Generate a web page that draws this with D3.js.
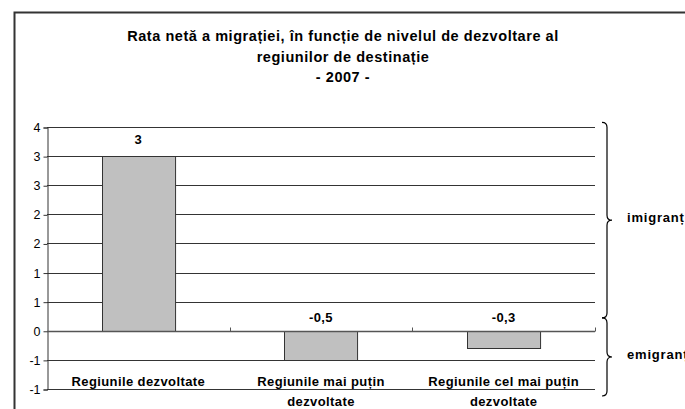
<!DOCTYPE html>
<html>
<head>
<meta charset="utf-8">
<script src="https://cdn.jsdelivr.net/npm/d3@7"></script>
<style>
  body { margin: 0; background: #fff; }
  svg { display: block; font-family: "Liberation Sans", Arial, sans-serif; }
</style>
</head>
<body>
<div id="chart"></div>
<script>
    // Données du graphique
    const categories = [["Regiunile dezvoltate"], ["Regiunile mai puțin", "dezvoltate"], ["Regiunile cel mai puțin", "dezvoltate"]];
    const values = [3, -0.5, -0.3];
    const valueLabels = ["3", "-0,5", "-0,3"];
    const yTicks = [3.5, 3, 2.5, 2, 1.5, 1, 0.5, 0, -0.5, -1];
    const titleLines = ["Rata netă a migrației, în funcție de nivelul de dezvoltare al", "regiunilor de destinație", "- 2007 -"];
    const braceGroups = [{ label: "imigranți", from: 3.58, to: 0.22 }, { label: "emigranți", from: 0.22, to: -1.12 }];

    const width = 685, height = 409;
    const margin = { top: 127, left: 47 };
    const plotW = 595 - margin.left;

    const svg = d3.select("#chart").append("svg")
        .attr("width", width)
        .attr("height", height);

    // Cadre extérieur
    svg.append("path")
        .attr("d", "M14.5,420 V12.5 H700")
        .attr("fill", "none")
        .attr("stroke", "#333")
        .attr("stroke-width", 2);

    // Titre
    svg.selectAll(".title").data(titleLines).enter().append("text")
        .attr("class", "title")
        .attr("x", 343)
        .attr("y", (d, i) => 41 + i * 20.5)
        .attr("text-anchor", "middle")
        .attr("font-size", 14.5)
        .attr("letter-spacing", 0.55)
        .attr("font-weight", "bold")
        .text(d => d);

    const y = d3.scaleLinear().domain([-1, 3.5]).range([389, margin.top]);
    const x = d3.scaleBand().domain(d3.range(categories.length)).range([margin.left, margin.left + plotW]).paddingInner(0.6).paddingOuter(0.3);
    const xCat = d3.scaleBand().domain(d3.range(categories.length)).range([margin.left, margin.left + plotW]);

    // Lignes de grille
    svg.selectAll(".grid").data(yTicks.filter(t => t !== 0)).enter().append("line")
        .attr("class", "grid")
        .attr("x1", margin.left).attr("x2", margin.left + plotW)
        .attr("y1", d => Math.round(y(d)) + 0.5).attr("y2", d => Math.round(y(d)) + 0.5)
        .attr("stroke", "#000")
        .attr("stroke-width", 0.8);

    // Axe Y (format Excel "0" : arrondi)
    const fmt = v => String(Math.sign(v) * Math.round(Math.abs(v)));
    const yAxis = d3.axisLeft(y).tickValues(yTicks).tickFormat(fmt).tickSize(4).tickPadding(3);
    const gy = svg.append("g")
        .attr("transform", `translate(${margin.left + 0.5},0.5)`)
        .call(yAxis);
    gy.select(".domain").attr("stroke", "#333");
    gy.selectAll(".tick line").attr("stroke", "#333");
    gy.selectAll(".tick text").attr("font-size", 12.5).attr("font-family", "Liberation Sans, Arial, sans-serif").attr("fill", "#000");

    // Barres
    svg.selectAll(".bar").data(values).enter().append("rect")
        .attr("class", "bar")
        .attr("x", (d, i) => Math.round(x(i)) + 0.5)
        .attr("width", x.bandwidth())
        .attr("y", d => Math.round(y(Math.max(0, d))) + 0.5)
        .attr("height", d => Math.abs(Math.round(y(d)) - Math.round(y(0))))
        .attr("fill", "#c0c0c0")
        .attr("stroke", "#333")
        .attr("stroke-width", 1);

    // Axe des catégories à zéro
    const y0 = Math.round(y(0)) + 0.5;
    svg.append("line")
        .attr("x1", margin.left).attr("x2", margin.left + plotW)
        .attr("y1", y0).attr("y2", y0)
        .attr("stroke", "#555").attr("stroke-width", 1.3);
    svg.selectAll(".ctick").data(d3.range(1, categories.length + 1)).enter().append("line")
        .attr("class", "ctick")
        .attr("x1", d => Math.round(margin.left + d * xCat.step()) + 0.5)
        .attr("x2", d => Math.round(margin.left + d * xCat.step()) + 0.5)
        .attr("y1", y0).attr("y2", y0 - 4)
        .attr("stroke", "#555");

    // Étiquettes de valeurs
    svg.selectAll(".vlabel").data(values).enter().append("text")
        .attr("class", "vlabel")
        .attr("x", (d, i) => x(i) + x.bandwidth() / 2)
        .attr("y", d => d >= 0 ? y(d) - 12 : y(0) - 9)
        .attr("text-anchor", "middle")
        .attr("font-size", 13)
        .attr("letter-spacing", 0.4)
        .attr("font-weight", "bold")
        .text((d, i) => valueLabels[i]);

    // Étiquettes de catégories
    categories.forEach((lines, i) => {
        svg.append("text")
            .attr("text-anchor", "middle")
            .attr("font-size", 13)
            .attr("letter-spacing", 0.4)
            .attr("font-weight", "bold")
            .selectAll("tspan").data(lines).enter().append("tspan")
            .attr("x", xCat(i) + xCat.bandwidth() / 2)
            .attr("y", (d, j) => 386 + j * 19.5)
            .text(d => d);
    });

    // Accolades à droite
    function brace(x0, top, bottom, w) {
        const mid = (top + bottom) / 2;
        const r = 5;
        return `M${x0},${top} Q${x0 + r},${top} ${x0 + r},${top + r} ` +
            `V${mid - r} Q${x0 + r},${mid} ${x0 + w},${mid} ` +
            `Q${x0 + r},${mid} ${x0 + r},${mid + r} ` +
            `V${bottom - r} Q${x0 + r},${bottom} ${x0},${bottom}`;
    }
    braceGroups.forEach(g => {
        const t = y(g.from), b = y(g.to);
        svg.append("path")
            .attr("d", brace(602, t, b, 10))
            .attr("fill", "none")
            .attr("stroke", "#000")
            .attr("stroke-width", 1.2);
        svg.append("text")
            .attr("x", 627)
            .attr("y", (t + b) / 2 + 2)
            .attr("font-size", 13)
            .attr("letter-spacing", 0.8)
            .attr("font-weight", "bold")
            .text(g.label);
    });
</script>
</body>
</html>
